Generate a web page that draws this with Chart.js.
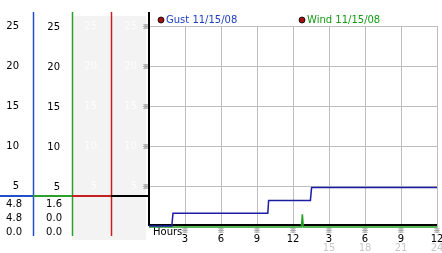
<!DOCTYPE html>
<html>
<head>
<meta charset="utf-8">
<script src="https://cdn.jsdelivr.net/npm/chart.js@4.4.0/dist/chart.umd.min.js"></script>
<style>
  html, body { margin: 0; padding: 0; background: #fff; }
  canvas { display: block; }
</style>
</head>
<body>
<canvas id="myChart" width="442" height="253"></canvas>
<script>
// values (hours since midnight)
var gustHours = [0, 1.9, 2.0, 9.9, 9.97, 13.45, 13.55, 24];
var gustValues = [0, 0, 1.6, 1.6, 3.2, 3.2, 4.8, 4.8];
var windHours = [0, 12.7, 12.78, 12.86, 24];
var windValues = [0, 0, 1.6, 0, 0];
var seriesLabels = ['Gust 11/15/08', 'Wind 11/15/08'];
var yTickValues = [5, 10, 15, 20, 25];
var xTickValues = [3, 6, 9, 12, 15, 18, 21, 24];
var hourLabels = ['3', '6', '9', '12', '3', '6', '9', '12'];
var lateHourLabels = ['', '', '', '', '15', '18', '21', '24'];
var gustStats = ['4.8', '4.8', '0.0'];
var windStats = ['1.6', '0.0', '0.0'];

var FONT = { family: 'DejaVu Sans', size: 10 };

function toPoints(xs, ys) {
  return xs.map(function (h, i) { return { x: h, y: ys[i] }; });
}

// one column of the left panel
function leftAxis(weight, width, pad, tickColor, min, max, grid) {
  return {
    type: 'linear',
    position: 'left',
    weight: weight,
    min: min,
    max: max,
    grid: grid || { display: false, drawTicks: false },
    border: { display: false },
    ticks: { color: tickColor, padding: pad, font: FONT },
    afterBuildTicks: function (s) {
      s.ticks = yTickValues.map(function (v) { return { value: v }; });
    },
    afterFit: function (s) {
      s.width = width;
      s.paddingTop = 0;
      s.paddingBottom = 0;
    }
  };
}

var panelPlugin = {
  id: 'panel',
  beforeDraw: function (chart) {
    var ctx = chart.ctx, s = chart.scales;
    ctx.save();
    ctx.fillStyle = '#f3f3f3';
    ctx.fillRect(s.yRed.left, 16, s.yBlack.right - 3 - s.yRed.left, 224);
    ctx.restore();
  },
  beforeDatasetsDraw: function (chart) {
    var ctx = chart.ctx, s = chart.scales, area = chart.chartArea;
    ctx.save();

    // column borders and separator
    var cols = [
      [s.yGust, '#2050c8', 236, 1.5],
      [s.yWind, '#2ca02c', 236, 1.5],
      [s.yRed, '#c42020', 236, 1.5],
      [s.yBlack, '#000000', area.bottom - 2, 2]
    ];
    cols.forEach(function (c) {
      var x = c[0].right + (c[3] === 2 ? 0 : 0.5);
      ctx.strokeStyle = c[1];
      ctx.lineWidth = c[3];
      ctx.beginPath();
      ctx.moveTo(x, 12);
      ctx.lineTo(x, c[2]);
      ctx.stroke();
      ctx.lineWidth = 2;
      ctx.beginPath();
      ctx.moveTo(c[0].left, 196);
      ctx.lineTo(c[0].right, 196);
      ctx.stroke();
    });

    // stats under the separator
    ctx.font = '10px "DejaVu Sans"';
    ctx.fillStyle = '#000';
    ctx.textAlign = 'right';
    ctx.textBaseline = 'middle';
    for (var i = 0; i < 3; i++) {
      ctx.fillText(gustStats[i], s.yGust.right - 11, 204 + 14 * i);
      ctx.fillText(windStats[i], s.yWind.right - 10, 204 + 14 * i);
    }

    // bottom axis line
    var y0 = s.yGust.getPixelForValue(0) - 1;
    ctx.strokeStyle = '#000';
    ctx.lineWidth = 2;
    ctx.beginPath();
    ctx.moveTo(area.left, y0);
    ctx.lineTo(area.right, y0);
    ctx.stroke();

    // small tick markers
    ctx.font = '7px "Noto Sans CJK JP"';
    ctx.fillStyle = '#111';
    ctx.textAlign = 'center';
    s.yBlack.ticks.forEach(function (t) {
      ctx.fillText('\u203B', area.left - 3, s.yBlack.getPixelForValue(t.value));
    });
    s.x.ticks.forEach(function (t) {
      ctx.fillText('\u203B', s.x.getPixelForValue(t.value), 230.5);
    });

    ctx.font = '10px "DejaVu Sans"';
    ctx.fillStyle = '#000';
    ctx.textAlign = 'left';
    ctx.fillText('Hours', area.left + 4, 232);
    ctx.restore();
  },
  afterDatasetsDraw: function (chart) {
    var ctx = chart.ctx, area = chart.chartArea;
    var xs = [area.left + 12, area.left + 153];
    var textColors = ['#1e40c0', '#139a13'];
    ctx.save();
    chart.data.datasets.forEach(function (ds, i) {
      ctx.fillStyle = '#a01010';
      ctx.strokeStyle = '#000';
      ctx.lineWidth = 0.8;
      ctx.beginPath();
      ctx.arc(xs[i], 20, 3, 0, Math.PI * 2);
      ctx.fill();
      ctx.stroke();
      ctx.font = '10px "DejaVu Sans"';
      ctx.fillStyle = textColors[i];
      ctx.textAlign = 'left';
      ctx.textBaseline = 'middle';
      ctx.fillText(ds.label, xs[i] + 5, 20.5);
    });
    ctx.restore();
  }
};

var ctx = document.getElementById('myChart').getContext('2d');
var myChart = new Chart(ctx, {
  type: 'line',
  data: {
    datasets: [
      {
        label: seriesLabels[0],
        data: toPoints(gustHours, gustValues),
        xAxisID: 'x',
        yAxisID: 'yGust',
        borderColor: '#1c1ca4',
        borderWidth: 1.5,
        pointRadius: 0,
        fill: false,
        tension: 0
      },
      {
        label: seriesLabels[1],
        data: toPoints(windHours, windValues),
        xAxisID: 'x',
        yAxisID: 'yWind',
        borderColor: '#22a022',
        borderWidth: 1.5,
        pointRadius: 0,
        fill: false,
        tension: 0
      }
    ]
  },
  options: {
    responsive: false,
    animation: false,
    devicePixelRatio: 1,
    layout: { padding: { top: 26, right: 5, left: 0, bottom: 0 } },
    plugins: { legend: { display: false }, tooltip: { enabled: false } },
    scales: {
      yGust: leftAxis(4, 33, 14, '#000', -0.25, 25),
      yWind: leftAxis(3, 39, 12, '#000', -0.125, 25.125),
      yRed: leftAxis(2, 39, 14, '#fdfdfd', -0.25, 25),
      yBlack: leftAxis(1, 38, 12, '#fdfdfd', -0.25, 25,
        { display: true, drawTicks: false, color: '#bdbdbd' }),
      x: {
        type: 'linear',
        position: 'bottom',
        weight: 0,
        min: 0,
        max: 24,
        grid: { color: '#bdbdbd', drawTicks: false },
        border: { display: false },
        ticks: {
          color: '#000', padding: 5, font: FONT, maxRotation: 0, autoSkip: false,
          callback: function (v, i) { return hourLabels[i]; }
        },
        afterBuildTicks: function (s) {
          s.ticks = xTickValues.map(function (v) { return { value: v }; });
        },
        afterFit: function (s) { s.height = 14; s.paddingLeft = 0; s.paddingRight = 0; }
      },
      x2: {
        type: 'linear',
        position: 'bottom',
        weight: 1,
        min: 0,
        max: 24,
        grid: { display: false, drawTicks: false },
        border: { display: false },
        ticks: {
          color: '#c8c8c8', padding: 0, font: FONT, maxRotation: 0, autoSkip: false,
          callback: function (v, i) { return lateHourLabels[i]; }
        },
        afterBuildTicks: function (s) {
          s.ticks = xTickValues.map(function (v) { return { value: v }; });
        },
        afterFit: function (s) { s.height = 11; s.paddingLeft = 0; s.paddingRight = 0; }
      }
    }
  },
  plugins: [panelPlugin]
});
</script>
</body>
</html>
